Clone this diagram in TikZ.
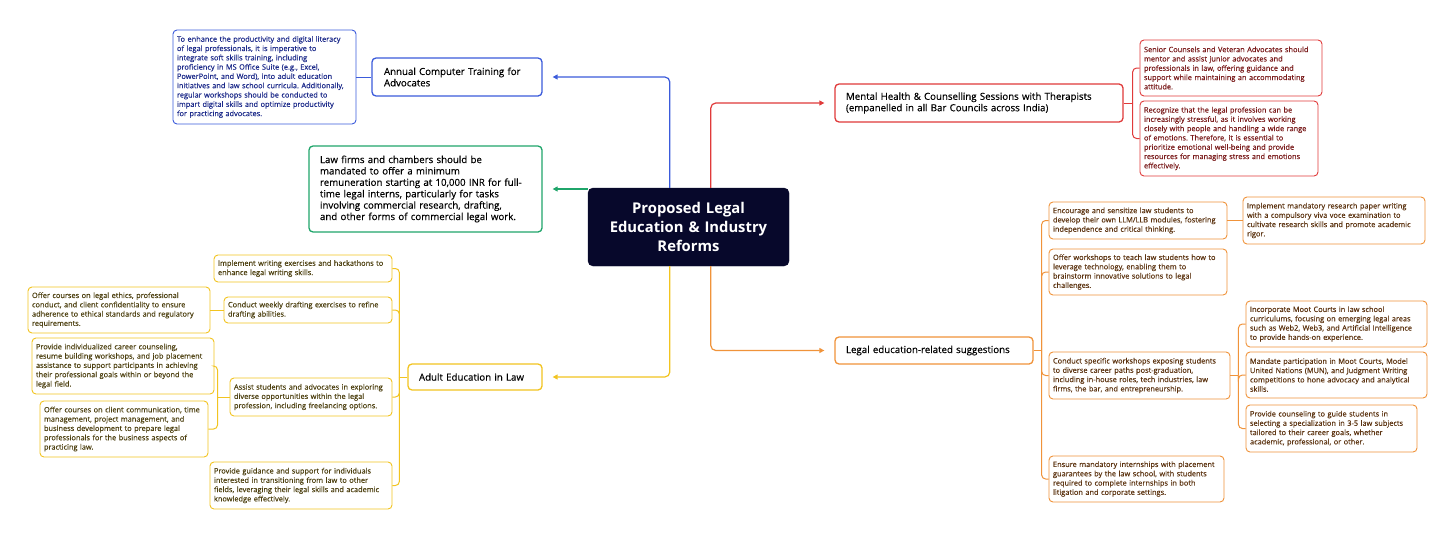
\documentclass[tikz,border=0pt]{standalone}
\usepackage{fontspec}
\setmainfont{Open Sans}
\newfontfamily\mmfont{Open Sans}[FakeBold=0.35]
\usetikzlibrary{arrows.meta}
\frenchspacing
\definecolor{cblue}{HTML}{3B5BDB}
\definecolor{tblue}{HTML}{1C2A8A}
\definecolor{cgreen}{HTML}{1FA56A}
\definecolor{cred}{HTML}{E03A3A}
\definecolor{tred}{HTML}{7A1B1B}
\definecolor{corange}{HTML}{F0933A}
\definecolor{torange}{HTML}{5C3310}
\definecolor{cyellow}{HTML}{F2C420}
\definecolor{tyellow}{HTML}{4D4010}
\definecolor{cnavy}{HTML}{07082B}
\newcommand\fdesc{\mmfont\fontsize{7.4}{9.3}\selectfont\frenchspacing}
\newcommand\fmain{\mmfont\fontsize{9.7}{11.4}\selectfont\frenchspacing}
\newcommand\fctr{\fontsize{14.8}{19}\selectfont\bfseries}
\newcommand\mmbox[8]{%
 \pgfmathsetmacro\mmw{#6-#4}%
 \pgfmathsetmacro\mmh{#7-#5}%
 \pgfmathsetmacro\mmx{(#4+#6)/2}%
 \pgfmathsetmacro\mmy{(#5+#7)/2}%
 \pgfmathsetmacro\mmtw{#6-#4-2*#2}%
 \node[#1, minimum width=\mmw pt, minimum height=\mmh pt, text width=\mmtw pt] (#3) at (\mmx,\mmy) {#8};}
\tikzset{
 box/.style={draw, rounded corners=4pt, fill=white, inner sep=0pt, align=left},
 mainbox/.style={box, line width=1.3pt, font=\fmain, text=black},
 kid/.style={box, line width=0.9pt, font=\fdesc},
 ctrbox/.style={draw=cnavy, fill=cnavy, rounded corners=5pt, inner sep=0pt, align=center, font=\fctr, text=white},
 bluek/.style={kid, draw=cblue, text=tblue},
 redk/.style={kid, draw=cred, text=tred},
 orangek/.style={kid, draw=corange, text=torange},
 yellowk/.style={kid, draw=cyellow, text=tyellow},
 conn/.style={line width=1pt, rounded corners=4pt},
 arr/.style={line width=1.2pt, rounded corners=5pt, -{Triangle[length=5pt,width=5pt]}, shorten >=10pt},
}
\begin{document}
\begin{tikzpicture}[x=1pt,y=-1pt]
\useasboundingbox[fill=white] (0,0) rectangle (1456,538);

% centre
\mmbox{ctrbox}{8}{ctr}{588}{188}{789}{266}{Proposed Legal\\Education \& Industry\\Reforms}

% main branches
\mmbox{mainbox, draw=cblue}{12}{B}{372}{58}{542}{96}{Annual Computer Training for\\Advocates}
\mmbox{mainbox, draw=cgreen}{11}{G}{309}{146}{542}{232}{Law firms and chambers should be\\mandated to offer a minimum\\remuneration starting at 10,000 INR for full-\\time legal interns, particularly for tasks\\involving commercial research, drafting,\\and other forms of commercial legal work.}
\mmbox{mainbox, draw=cred}{11}{R}{835}{84}{1123}{122}{Mental Health \& Counselling Sessions with Therapists\\(empanelled in all Bar Councils across India)}
\mmbox{mainbox, draw=corange}{11}{O}{835}{337}{1033}{364}{Legal education-related suggestions}
\mmbox{mainbox, draw=cyellow}{11}{Y}{408}{364}{542}{390}{Adult Education in Law}

% blue child
\mmbox{bluek}{4}{Bd}{173}{30}{356}{124}{To enhance the productivity and digital literacy\\of legal professionals, it is imperative to\\integrate soft skills training, including\\proficiency in MS Office Suite (e.g., Excel,\\PowerPoint, and Word), into adult education\\initiatives and law school curricula. Additionally,\\regular workshops should be conducted to\\impart digital skills and optimize productivity\\for practicing advocates.}

% red children
\mmbox{redk}{4}{R1}{1140}{40}{1322}{96}{Senior Counsels and Veteran Advocates should\\mentor and assist junior advocates and\\professionals in law, offering guidance and\\support while maintaining an accommodating\\attitude.}
\mmbox{redk}{4}{R2}{1140}{101}{1318}{176}{Recognize that the legal profession can be\\increasingly stressful, as it involves working\\closely with people and handling a wide range\\of emotions. Therefore, it is essential to\\prioritize emotional well-being and provide\\resources for managing stress and emotions\\effectively.}

% orange children
\mmbox{orangek}{4}{oa}{1049}{202}{1227}{239}{Encourage and sensitize law students to\\develop their own LLM/LLB modules, fostering\\independence and critical thinking.}
\mmbox{orangek}{4}{oa2}{1243}{197}{1425}{244}{Implement mandatory research paper writing\\with a compulsory viva voce examination to\\cultivate research skills and promote academic\\rigor.}
\mmbox{orangek}{4}{ob}{1049}{249}{1227}{295}{Offer workshops to teach law students how to\\leverage technology, enabling them to\\brainstorm innovative solutions to legal\\challenges.}
\mmbox{orangek}{4}{oc}{1049}{352}{1230}{399}{Conduct specific workshops exposing students\\to diverse career paths post-graduation,\\including in-house roles, tech industries, law\\firms, the bar, and entrepreneurship.}
\mmbox{orangek}{4}{oc1}{1246}{301}{1427}{347}{Incorporate Moot Courts in law school\\curriculums, focusing on emerging legal areas\\such as Web2, Web3, and Artificial Intelligence\\to provide hands-on experience.}
\mmbox{orangek}{4}{oc2}{1246}{352}{1427}{398}{Mandate participation in Moot Courts, Model\\United Nations (MUN), and Judgment Writing\\competitions to hone advocacy and analytical\\skills.}
\mmbox{orangek}{4}{oc3}{1246}{405}{1417}{452}{Provide counseling to guide students in\\selecting a specialization in 3-5 law subjects\\tailored to their career goals, whether\\academic, professional, or other.}
\mmbox{orangek}{4}{od}{1049}{456}{1224}{502}{Ensure mandatory internships with placement\\guarantees by the law school, with students\\required to complete internships in both\\litigation and corporate settings.}

% yellow children
\mmbox{yellowk}{4}{y1}{214}{255}{392}{282}{Implement writing exercises and hackathons to\\enhance legal writing skills.}
\mmbox{yellowk}{4}{y2}{224}{297}{392}{323}{Conduct weekly drafting exercises to refine\\drafting abilities.}
\mmbox{yellowk}{4}{y2a}{28}{287}{210}{333}{Offer courses on legal ethics, professional\\conduct, and client confidentiality to ensure\\adherence to ethical standards and regulatory\\requirements.}
\mmbox{yellowk}{4}{y3}{230}{378}{392}{416}{Assist students and advocates in exploring\\diverse opportunities within the legal\\profession, including freelancing options.}
\mmbox{yellowk}{4}{y3a}{32}{338}{214}{394}{Provide individualized career counseling,\\resume building workshops, and job placement\\assistance to support participants in achieving\\their professional goals within or beyond the\\legal field.}
\mmbox{yellowk}{4}{y3b}{40}{401}{208}{457}{Offer courses on client communication, time\\management, project management, and\\business development to prepare legal\\professionals for the business aspects of\\practicing law.}
\mmbox{yellowk}{4}{y4}{210}{462}{392}{509}{Provide guidance and support for individuals\\interested in transitioning from law to other\\fields, leveraging their legal skills and academic\\knowledge effectively.}

% first-level connectors
\draw[arr, cblue] ([xshift=82pt]ctr.north west) |- (B.east);
\draw[arr, cgreen] (ctr.west |- G.east) -- (G.east);
\draw[arr, cred] ([xshift=123pt]ctr.north west) |- (R.west);
\draw[arr, cyellow] ([xshift=82pt]ctr.south west) |- (Y.east);
\draw[arr, corange] ([xshift=123pt]ctr.south west) |- (O.west);

% blue
\draw[conn, cblue] (B.west) -- (Bd.east);

% red
\coordinate (rj) at ([xshift=9pt]R.east);
\draw[conn, cred] (R.east) -- (rj);
\draw[conn, cred] (rj) |- (R1.west);
\draw[conn, cred] (rj) |- (R2.west);

% orange
\coordinate (oj) at ([xshift=8pt]O.east);
\draw[conn, corange] (O.east) -- (oj);
\foreach \n in {oa,ob,oc,od} \draw[conn, corange] (oj) |- (\n.west);
\draw[conn, corange] (oa.east) -- (oa2.west);
\coordinate (ocj) at ([xshift=8pt]oc.east);
\draw[conn, corange] (oc.east) -- (ocj);
\foreach \n in {oc1,oc2,oc3} \draw[conn, corange] (ocj) |- (\n.west);

% yellow
\coordinate (yj) at ([xshift=-8pt]Y.west);
\draw[conn, cyellow] (Y.west) -- (yj);
\foreach \n in {y1,y2,y3,y4} \draw[conn, cyellow] (yj) |- (\n.east);
\draw[conn, cyellow] (y2.west) -- (y2a.east);
\coordinate (y3j) at ([xshift=-12pt]y3.west);
\draw[conn, cyellow] (y3.west) -- (y3j);
\draw[conn, cyellow] (y3j) |- (y3a.east);
\draw[conn, cyellow] (y3j) |- (y3b.east);
\end{tikzpicture}
\end{document}
